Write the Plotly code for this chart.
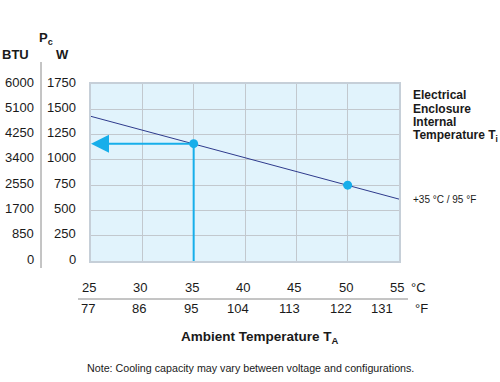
import plotly.graph_objects as go

# ---- data ----
temp_c = [25, 30, 35, 40, 45, 50, 55]
temp_f = [77, 86, 95, 104, 113, 122, 131]
watt_ticks = [0, 250, 500, 750, 1000, 1250, 1500, 1750]
btu_ticks = [0, 850, 1700, 2550, 3400, 4250, 5100, 6000]

line_x = [25, 55]
line_w = [1430, 612]
marker_x = [35, 50]
marker_w = [1160, 750]
operating_c = 35
operating_w = 1160

right_lines = ["Electrical", "Enclosure", "Internal", "Temperature T<sub>i</sub>"]
right_note = "+35 °C / 95 °F"
x_title = "Ambient Temperature T<sub>A</sub>"
note = "Note: Cooling capacity may vary between voltage and configurations."

FONT = "Liberation Sans, Arial, Helvetica, sans-serif"
NAVY = "#2e3a8c"
BLUE = "#17aeea"
BG = "#e1f3fc"
GRID = "#c2c8ce"
TXT = "#1a1a1a"

W, H = 500, 382
L, R, T, B = 91, 101, 84, 121

fig = go.Figure()

# main line
fig.add_trace(go.Scatter(x=line_x, y=line_w, mode="lines",
                         line=dict(color=NAVY, width=1), hoverinfo="skip"))
# vertical guide
fig.add_trace(go.Scatter(x=[operating_c, operating_c], y=[operating_w, 0], mode="lines",
                         line=dict(color=BLUE, width=2), hoverinfo="skip"))
# markers
fig.add_trace(go.Scatter(x=marker_x, y=marker_w, mode="markers",
                         marker=dict(color=BLUE, size=9), hoverinfo="skip"))

ann = []
# horizontal arrow
ann.append(dict(x=temp_c[0], y=operating_w, ax=operating_c, ay=operating_w,
                xref="x", yref="y", axref="x", ayref="y", text="",
                showarrow=True, arrowhead=2, arrowsize=1.8, arrowwidth=2,
                arrowcolor=BLUE, standoff=0, startstandoff=0))

# y tick labels (W and BTU)
for wv, bv in zip(watt_ticks, btu_ticks):
    ann.append(dict(x=0, xref="paper", y=wv, yref="y", text=str(wv),
                    xanchor="right", yanchor="middle", xshift=-13, yshift=2,
                    showarrow=False, font=dict(family=FONT, size=13, color=TXT)))
    ann.append(dict(x=0, xref="paper", y=wv, yref="y", text=str(bv),
                    xanchor="right", yanchor="middle", xshift=-55, yshift=2,
                    showarrow=False, font=dict(family=FONT, size=13, color=TXT)))

# headers
ann.append(dict(x=0, xref="paper", y=1, yref="paper", text="<b>BTU</b>",
                xanchor="center", yanchor="middle", xshift=15 - L, yshift=T - 54,
                showarrow=False, font=dict(family=FONT, size=13, color=TXT)))
ann.append(dict(x=0, xref="paper", y=1, yref="paper", text="<b>P<sub>c</sub></b>",
                xanchor="left", yanchor="middle", xshift=37 - L, yshift=T - 38,
                showarrow=False, font=dict(family=FONT, size=13, color=TXT)))
ann.append(dict(x=0, xref="paper", y=1, yref="paper", text="<b>W</b>",
                xanchor="center", yanchor="middle", xshift=62 - L, yshift=T - 54,
                showarrow=False, font=dict(family=FONT, size=13, color=TXT)))

# x tick labels
for i, (c, f) in enumerate(zip(temp_c, temp_f)):
    last = i == len(temp_c) - 1
    ann.append(dict(x=c, xref="x", y=0, yref="paper", text=str(c),
                    xanchor="right", yanchor="middle", xshift=7, yshift=-(287 - (H - B)),
                    showarrow=False, font=dict(family=FONT, size=13, color=TXT)))
    ann.append(dict(x=c, xref="x", y=0, yref="paper", text=str(f),
                    xanchor="right", yanchor="middle", xshift=(-4 if last else 6),
                    yshift=-(308 - (H - B)),
                    showarrow=False, font=dict(family=FONT, size=13, color=TXT)))
# units
ann.append(dict(x=temp_c[-1], xref="x", y=0, yref="paper", text="°C",
                xanchor="left", yanchor="middle", xshift=10, yshift=-(287 - (H - B)),
                showarrow=False, font=dict(family=FONT, size=13, color=TXT)))
ann.append(dict(x=temp_c[-1], xref="x", y=0, yref="paper", text="°F",
                xanchor="left", yanchor="middle", xshift=14, yshift=-(308 - (H - B)),
                showarrow=False, font=dict(family=FONT, size=13, color=TXT)))

# x title
ann.append(dict(x=0, xref="paper", y=0, yref="paper", text="<b>" + x_title + "</b>",
                xanchor="left", yanchor="middle", xshift=179 - L, yshift=-(337 - (H - B)),
                showarrow=False, font=dict(family=FONT, size=13.5, color=TXT)))
# note
ann.append(dict(x=0, xref="paper", y=0, yref="paper", text=note,
                xanchor="left", yanchor="middle", xshift=85 - L, yshift=-(368 - (H - B)),
                showarrow=False, font=dict(family=FONT, size=10.7, color=TXT)))

# right labels
for k, t in enumerate(right_lines):
    ann.append(dict(x=1, xref="paper", y=1, yref="paper", text="<b>" + t + "</b>",
                    xanchor="left", yanchor="middle", xshift=411 - (W - R),
                    yshift=T - (95 + 13.6 * k),
                    showarrow=False, font=dict(family=FONT, size=12, color=TXT)))
ann.append(dict(x=1, xref="paper", y=1, yref="paper", text=right_note,
                xanchor="left", yanchor="middle", xshift=411 - (W - R), yshift=T - 199,
                showarrow=False, font=dict(family=FONT, size=10, color=TXT)))

pw = W - L - R
ph = H - T - B
def px(xp):
    return (xp - L) / pw
def py(yp):
    return (H - B - yp) / ph
shapes = [
    dict(type="line", xref="paper", yref="paper", x0=px(41), x1=px(41),
         y0=py(62), y1=py(268), line=dict(color="#8a8a8a", width=1)),
    dict(type="line", xref="paper", yref="paper", x0=px(78), x1=px(408),
         y0=py(299), y1=py(299), line=dict(color="#8a8a8a", width=1)),
]

fig.update_layout(
    width=W, height=H,
    margin=dict(l=L, r=R, t=T, b=B, pad=0),
    paper_bgcolor="white", plot_bgcolor=BG,
    showlegend=False,
    annotations=ann, shapes=shapes,
    xaxis=dict(range=[temp_c[0], temp_c[-1]], tickvals=temp_c, showticklabels=False,
               showgrid=True, gridcolor=GRID, gridwidth=1, zeroline=False,
               showline=True, linecolor="#c6cfd8", linewidth=1.5, mirror=True,
               fixedrange=True),
    yaxis=dict(range=[watt_ticks[0], watt_ticks[-1]], tickvals=watt_ticks, showticklabels=False,
               showgrid=True, gridcolor=GRID, gridwidth=1, zeroline=False,
               showline=True, linecolor="#c6cfd8", linewidth=1.5, mirror=True,
               fixedrange=True),
    font=dict(family=FONT, color=TXT),
)

fig.write_html("out.html", config=dict(displayModeBar=False),
               post_script="document.body.style.margin='0';document.body.style.overflow='hidden';")
